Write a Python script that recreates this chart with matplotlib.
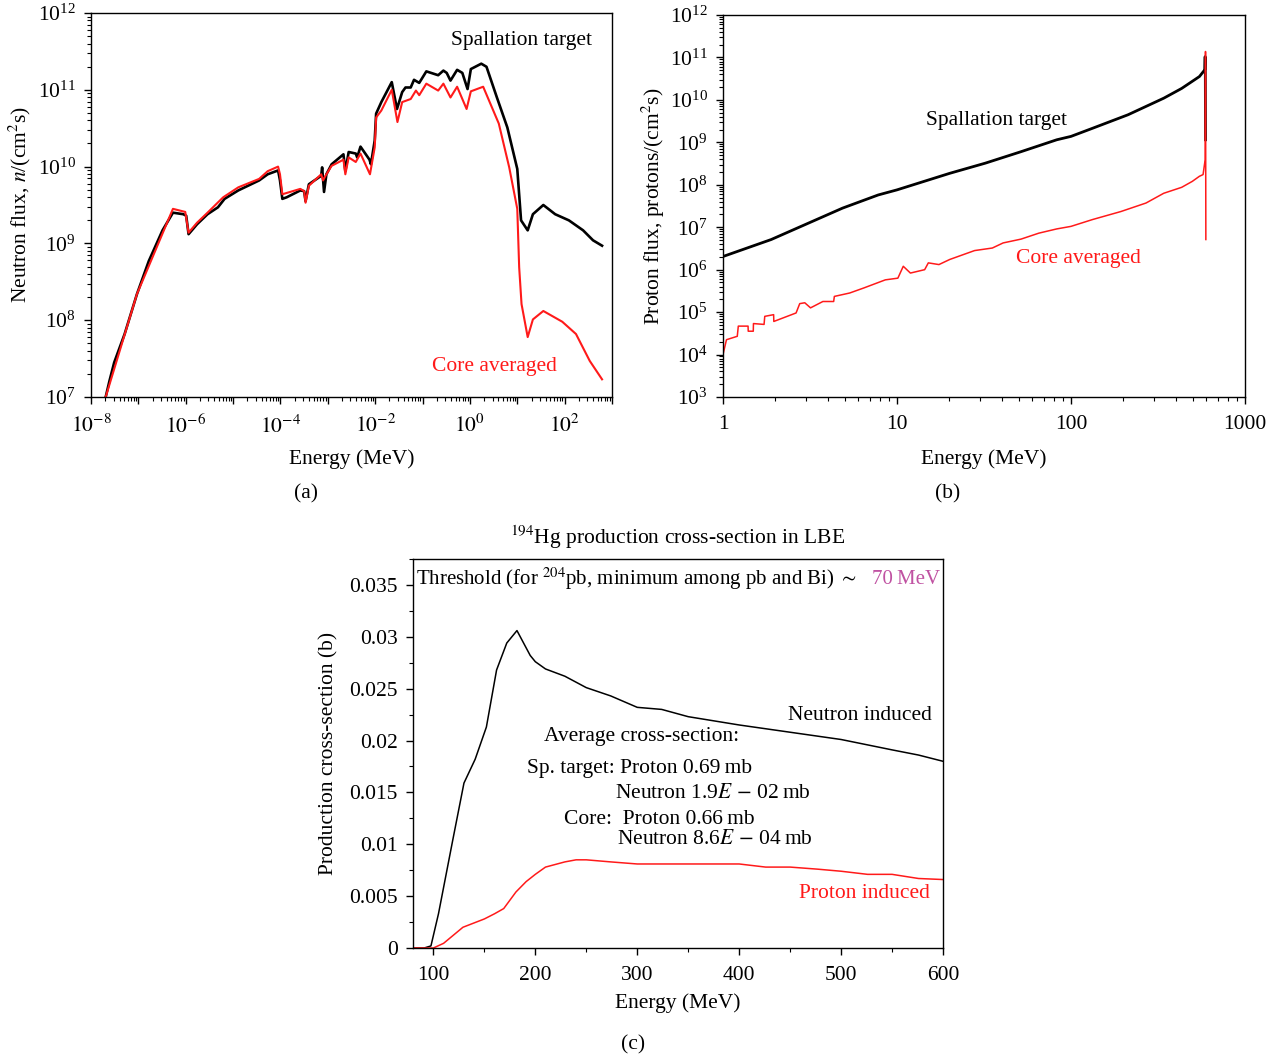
import numpy as np
import matplotlib
matplotlib.use("Agg")
import matplotlib.pyplot as plt
from matplotlib.ticker import LogLocator, LogFormatterMathtext, NullFormatter, MultipleLocator, FixedLocator

plt.rcParams['font.family'] = ['Liberation Serif', 'DejaVu Serif']
plt.rcParams['mathtext.fontset'] = 'stix'
FS = 15.5

RED = '#ff1a1a'
PURPLE = '#c052a2'

# ---------------- Panel (a): neutron flux (log10 E [MeV], log10 flux) ----------------
a_sp_logE = [-7.69, -7.61, -7.51, -7.29, -7.03, -6.78, -6.49, -6.27, -6.05, -5.99, -5.94, -5.76, -5.54,
             -5.32, -5.18, -4.89, -4.45, -4.27, -4.05, -4.01, -3.96, -3.87, -3.58, -3.50, -3.47, -3.40,
             -3.14, -3.12, -3.08, -3.03, -2.92, -2.67, -2.63, -2.56, -2.41, -2.38, -2.31, -2.12, -2.09,
             -2.01, -1.98, -1.87, -1.65, -1.54, -1.43, -1.36, -1.25, -1.18, -1.07, -0.92, -0.67, -0.56,
             -0.49, -0.41, -0.27, -0.16, -0.05, 0.02, 0.24, 0.35, 0.57, 0.79, 1.00, 1.08, 1.22, 1.33,
             1.55, 1.80, 2.09, 2.39, 2.60, 2.79]
a_sp_logF = [7.00, 7.21, 7.45, 7.82, 8.34, 8.77, 9.17, 9.40, 9.38, 9.36, 9.12, 9.25, 9.38,
             9.47, 9.58, 9.69, 9.82, 9.90, 9.95, 9.82, 9.58, 9.60, 9.69, 9.68, 9.55, 9.77,
             9.88, 9.99, 9.67, 9.90, 10.03, 10.16, 9.94, 10.19, 10.17, 10.12, 10.26, 10.09, 10.03,
             10.34, 10.69, 10.84, 11.10, 10.75, 10.97, 11.03, 11.03, 11.13, 11.09, 11.24, 11.19, 11.25,
             11.22, 11.12, 11.26, 11.22, 11.01, 11.27, 11.34, 11.30, 10.90, 10.51, 9.97, 9.30, 9.17, 9.38,
             9.50, 9.38, 9.30, 9.17, 9.04, 8.97]

a_core_logE = [-7.69, -7.03, -6.27, -6.01, -5.94, -5.76, -5.54, -5.21, -4.89, -4.45, -4.27, -4.05,
               -4.01, -3.96, -3.58, -3.50, -3.47, -3.40, -3.14, -3.10, -3.05, -2.92, -2.67, -2.63, -2.56,
               -2.41, -2.31, -2.11, -2.01, -1.98, -1.87, -1.65, -1.53, -1.43, -1.25, -1.14, -1.07,
               -0.92, -0.67, -0.56, -0.41, -0.27, -0.07, 0.02, 0.28, 0.61, 0.83, 1.00, 1.04, 1.09,
               1.22, 1.33, 1.55, 1.95, 2.24, 2.53, 2.79]
a_core_logF = [7.00, 8.34, 9.45, 9.41, 9.14, 9.27, 9.40, 9.60, 9.73, 9.84, 9.94, 10.00,
               9.90, 9.64, 9.71, 9.68, 9.53, 9.75, 9.90, 9.82, 9.88, 10.01, 10.09, 9.90, 10.12,
               10.06, 10.17, 9.90, 10.25, 10.64, 10.73, 11.00, 10.58, 10.84, 10.88, 10.99, 10.93,
               11.08, 10.99, 11.08, 10.90, 11.04, 10.75, 10.98, 11.04, 10.56, 9.99, 9.45, 8.69, 8.21,
               7.78, 8.01, 8.12, 7.98, 7.82, 7.47, 7.23]

# ---------------- Panel (b): proton flux (log10 E [MeV], log10 flux) ----------------
b_sp_logE = [0.0, 0.277, 0.482, 0.687, 0.892, 1.0, 1.303, 1.508, 1.713, 1.918, 2.0, 2.123, 2.328,
             2.533, 2.636, 2.738, 2.769, 2.771, 2.772, 2.773]
b_sp_logF = [6.31, 6.71, 7.08, 7.45, 7.76, 7.88, 8.27, 8.51, 8.78, 9.06, 9.14, 9.33, 9.65,
             10.04, 10.27, 10.55, 10.71, 11.02, 10.60, 9.06]

b_core_logE = [0.0, 0.02, 0.082, 0.088, 0.144, 0.145, 0.174, 0.175, 0.236, 0.240, 0.291, 0.292,
               0.42, 0.441, 0.47, 0.503, 0.574, 0.636, 0.640, 0.728, 0.81, 0.933, 1.005, 1.036,
               1.077, 1.159, 1.18, 1.241, 1.303, 1.405, 1.446, 1.548, 1.61, 1.713, 1.815, 1.918,
               2.0, 2.123, 2.287, 2.431, 2.533, 2.636, 2.697, 2.738, 2.759, 2.771, 2.773, 2.774, 2.775]
b_core_logF = [4.00, 4.35, 4.43, 4.67, 4.67, 4.55, 4.55, 4.73, 4.71, 4.90, 4.94, 4.78,
               4.98, 5.20, 5.22, 5.10, 5.25, 5.25, 5.37, 5.45, 5.57, 5.76, 5.80, 6.08,
               5.92, 6.00, 6.16, 6.12, 6.24, 6.39, 6.45, 6.51, 6.63, 6.72, 6.86, 6.96,
               7.02, 7.18, 7.37, 7.57, 7.80, 7.94, 8.08, 8.20, 8.24, 8.59, 11.14, 9.0, 6.71]

# ---------------- Panel (c): 194Hg production cross-section ----------------
c_n_E = [80, 91, 97.6, 105, 119, 130, 141, 152, 162, 172, 182, 195, 200, 210, 229, 250, 274, 300,
         324, 350, 400, 450, 500, 550, 576, 600]
c_n_xs = [0, 0, 0.0002, 0.0033, 0.0104, 0.0159, 0.0182, 0.0213, 0.0268, 0.0294, 0.0306, 0.0282,
          0.0276, 0.0269, 0.0262, 0.0251, 0.0243, 0.0232, 0.0230, 0.0223, 0.0215, 0.0208, 0.0201,
          0.0191, 0.0186, 0.0180]
c_p_E = [80, 100, 110, 129, 150, 160, 169, 181, 191, 200, 210, 229, 240, 250, 274, 300, 353, 400,
         426, 450, 477, 500, 526, 550, 576, 600]
c_p_xs = [0, 0, 0.00045, 0.0020, 0.0028, 0.0033, 0.0038, 0.0054, 0.0064, 0.0071, 0.0078, 0.0083,
          0.0085, 0.0085, 0.0083, 0.0081, 0.0081, 0.0081, 0.0078, 0.0078, 0.0076, 0.0074, 0.0071,
          0.0071, 0.0067, 0.0066]

W, H = 1284, 1061
fig = plt.figure(figsize=(W / 100, H / 100), dpi=100)
TS = '\u2009'  # thin space


def rect(l, t, r, b):
    return [l / W, 1 - b / H, (r - l) / W, (b - t) / H]


def ftext(x, y, s, **kw):
    fig.text(x / W, 1 - y / H, s, fontsize=kw.pop('fontsize', FS), **kw)


def style(ax):
    ax.tick_params(which='both', direction='out', labelsize=FS, top=False, right=False)
    ax.tick_params(which='major', length=5, width=1)
    ax.tick_params(which='minor', length=3, width=0.8)
    ax.tick_params(axis='x', which='major', pad=8)
    ax.tick_params(axis='y', which='major', pad=6)
    for s in ax.spines.values():
        s.set_linewidth(1.0)


# ---- (a)
ax1 = fig.add_axes(rect(91, 13, 612, 397))
ax1.plot(10 ** np.array(a_sp_logE), 10 ** np.array(a_sp_logF), color='black', lw=1.9)
ax1.plot(10 ** np.array(a_core_logE), 10 ** np.array(a_core_logF), color=RED, lw=1.5)
ax1.set_xscale('log'); ax1.set_yscale('log')
ax1.set_xlim(1e-8, 1e3); ax1.set_ylim(1e7, 1e12)
ax1.xaxis.set_major_locator(FixedLocator([10.0 ** k for k in range(-8, 4)]))
ax1.xaxis.set_major_formatter(matplotlib.ticker.FuncFormatter(
    lambda v, p: r'$10^{%d}$' % round(np.log10(v)) if round(np.log10(v)) % 2 == 0 else ''))
ax1.xaxis.set_minor_locator(LogLocator(base=10, subs=np.arange(2, 10), numticks=100))
ax1.xaxis.set_minor_formatter(NullFormatter())
ax1.yaxis.set_major_locator(LogLocator(base=10, numticks=20))
ax1.yaxis.set_major_formatter(LogFormatterMathtext())
ax1.yaxis.set_minor_locator(LogLocator(base=10, subs=np.arange(2, 10), numticks=100))
ax1.yaxis.set_minor_formatter(NullFormatter())
style(ax1)
ax1.set_xlabel('Energy (MeV)', fontsize=FS, labelpad=8)
ax1.set_ylabel(r'Neutron flux, $n$/(cm$^2$s)', fontsize=FS, labelpad=3)
ftext(592, 41, 'Spallation target', ha='right', va='center')
ftext(557, 367, 'Core averaged', ha='right', va='center', color=RED)
ftext(306, 494, '(a)', ha='center', va='center')

# ---- (b)
ax2 = fig.add_axes(rect(723, 15, 1245, 397))
ax2.plot(10 ** np.array(b_sp_logE), 10 ** np.array(b_sp_logF), color='black', lw=2.0)
ax2.plot(10 ** np.array(b_core_logE), 10 ** np.array(b_core_logF), color=RED, lw=1.1)
ax2.set_xscale('log'); ax2.set_yscale('log')
ax2.set_xlim(1, 1000); ax2.set_ylim(1e3, 1e12)
ax2.xaxis.set_major_locator(FixedLocator([1, 10, 100, 1000]))
ax2.xaxis.set_major_formatter(matplotlib.ticker.FuncFormatter(lambda v, p: '%d' % round(v)))
ax2.xaxis.set_minor_locator(LogLocator(base=10, subs=np.arange(2, 10), numticks=100))
ax2.xaxis.set_minor_formatter(NullFormatter())
ax2.yaxis.set_major_locator(LogLocator(base=10, numticks=20))
ax2.yaxis.set_major_formatter(LogFormatterMathtext())
ax2.yaxis.set_minor_locator(LogLocator(base=10, subs=np.arange(2, 10), numticks=100))
ax2.yaxis.set_minor_formatter(NullFormatter())
style(ax2)
ax2.set_xlabel('Energy (MeV)', fontsize=FS, labelpad=11)
ax2.set_ylabel(r'Proton flux, protons/(cm$^2$s)', fontsize=FS, labelpad=2)
ftext(996, 120, 'Spallation target', ha='center', va='center')
ftext(1078, 259, 'Core averaged', ha='center', va='center', color=RED)
ftext(948, 494, '(b)', ha='center', va='center')

# ---- (c)
ax3 = fig.add_axes(rect(413, 559, 943, 948))
ax3.plot(c_n_E, c_n_xs, color='black', lw=1.1)
ax3.plot(c_p_E, c_p_xs, color=RED, lw=1.1)
ax3.set_xlim(80, 600); ax3.set_ylim(0, 0.0375)
ax3.xaxis.set_major_locator(FixedLocator([100, 200, 300, 400, 500, 600]))
ax3.xaxis.set_minor_locator(MultipleLocator(50))
ax3.yaxis.set_major_locator(MultipleLocator(0.005))
ax3.yaxis.set_minor_locator(MultipleLocator(0.0025))
ax3.yaxis.set_major_formatter(matplotlib.ticker.FuncFormatter(
    lambda v, p: '0' if abs(v) < 1e-9 else ('%.3f' % v).rstrip('0')))
style(ax3)
ax3.set_xlabel('Energy (MeV)', fontsize=FS, labelpad=6)
ax3.set_ylabel('Production cross-section (b)', fontsize=FS, labelpad=8)
ftext(678, 537, r'$^{194}$Hg production cross-section in LBE', ha='center', va='center')
ftext(416, 579, r'Threshold (for $^{204}$pb, minimum among pb and Bi) $\sim$', ha='left', va='center',
      fontsize=15)
ftext(940, 579, '70' + TS + 'MeV', ha='right', va='center', color=PURPLE, fontsize=15)
ftext(932, 715, 'Neutron induced', ha='right', va='center')
ftext(544, 736, 'Average cross-section:', ha='left', va='center')
ftext(527, 769, 'Sp. target: Proton 0.69' + TS + 'mb', ha='left', va='center')
ftext(615, 793, r'Neutron 1.9$E$ $-$ 02' + TS + 'mb', ha='left', va='center')
ftext(564, 819, 'Core:  Proton 0.66' + TS + 'mb', ha='left', va='center')
ftext(617, 840, r'Neutron 8.6$E$ $-$ 04' + TS + 'mb', ha='left', va='center')
ftext(930, 893, 'Proton induced', ha='right', va='center', color=RED)
ftext(633, 1045, '(c)', ha='center', va='center')

fig.savefig('out.png', dpi=100)
